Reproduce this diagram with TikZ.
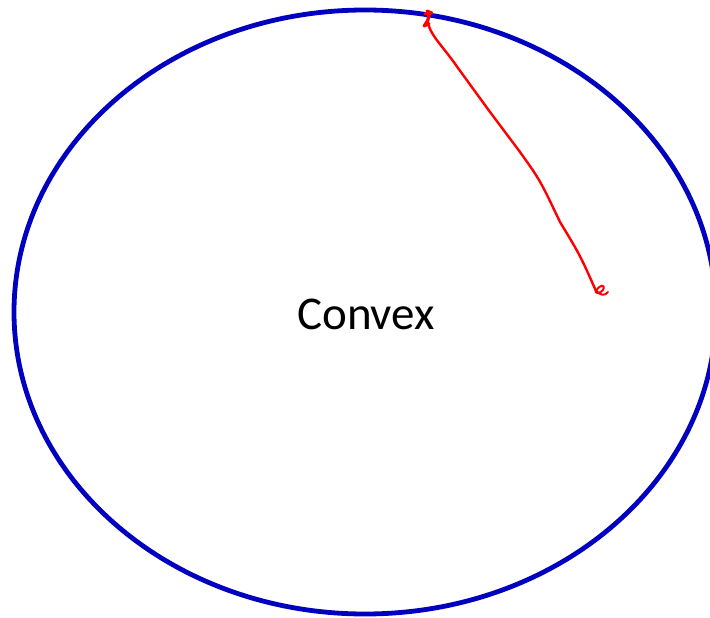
\documentclass[tikz,border=0pt]{standalone}
\usepackage{fontspec}
\setmainfont{Carlito}
\definecolor{SetBlue}{RGB}{0, 0, 190}
\definecolor{InkRed}{RGB}{255, 0, 0}
\usetikzlibrary{shapes.geometric}

\begin{document}
\begin{tikzpicture}[
        x=1pt, y=-1pt,
        setline/.style={ellipse, draw=SetBlue, line width=4.8pt,
                        minimum width=702pt, minimum height=604pt, inner sep=0pt},
        label/.style={font=\fontsize{47}{50}\selectfont, text=black},
        ink/.style={InkRed, line width=2.4pt, line cap=round, line join=round}
      ]
      \useasboundingbox (0,0) rectangle (710,618);
      \node[setline] (set) at (365,312) {};
      \node[label] (name) at (366,314) {Convex};
      % hand drawn segment between two points of the set
      \coordinate (p1) at (428,16);
      \coordinate (p2) at (596,291);
      \draw[ink] (p1) .. controls (426,32) and (440,42) .. (458,68)
                 -- (490,112) -- (520,152) .. controls (540,180) .. (560,222)
                 .. controls (580,255) .. (p2);
      % scribbled end marks
      \draw[ink, line width=3pt] (425,14) -- (430,12) -- (428,20) -- (424,26) -- (429,24)
                 (427,11) -- (432,13);
      \draw[ink, line width=2pt] (p2) .. controls (600,284) and (606,284) .. (603,290)
                 .. controls (600,294) and (594,294) .. (596,290)
                 .. controls (600,296) and (605,296) .. (608,292);
    \end{tikzpicture}
\end{document}
